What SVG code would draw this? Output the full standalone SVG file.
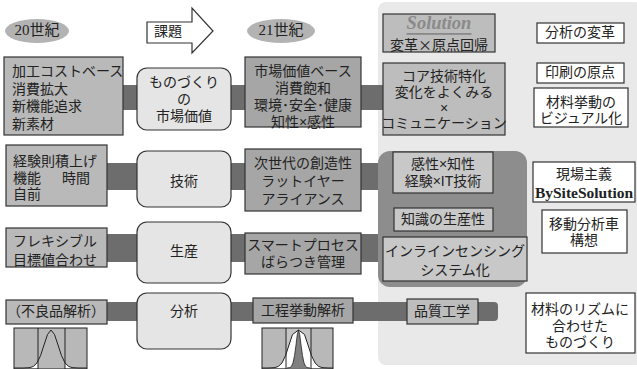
<svg xmlns="http://www.w3.org/2000/svg" width="637" height="369" viewBox="0 0 637 369">
<style>
text{font-family:"Liberation Sans","Noto Sans CJK JP",sans-serif;font-size:14px;fill:#222;dominant-baseline:central}
.c{text-anchor:middle}
.jp{font-family:"Noto Sans CJK JP",sans-serif}
.era{font-family:"Liberation Serif","Noto Sans CJK JP",serif;font-size:15px}
.soltitle{font-family:"Liberation Serif",serif;font-size:18.5px;font-weight:bold;font-style:italic;fill:#8a8a8a;text-decoration:underline}
.bysite{font-family:"Liberation Serif",serif;font-size:15.5px;font-weight:bold}
.old{fill:#b9b9b9;stroke:#333;stroke-width:1.2}
.new{fill:#a6a6a6;stroke:#333;stroke-width:1.2}
.node{fill:#e5e5e5;stroke:#333;stroke-width:1.2}
.sol{fill:#bdbdbd;stroke:#333;stroke-width:1.2}
.inner{fill:#c8c8c8;stroke:#333;stroke-width:1.2}
.wht{fill:#fff;stroke:#333;stroke-width:1.2}
.band{fill:#6d6d6d}
</style>
<rect width="637" height="369" fill="#fff"/>
<rect id="panel" x="378" y="2" width="265" height="363" rx="8" fill="#e9e9e9"/>

<g id="connectors">
<rect class="band" x="120" y="85" width="263" height="25"/>
<rect class="band" x="105" y="163" width="278" height="27"/>
<rect class="band" x="105" y="234" width="278" height="28"/>
<rect class="band" x="105" y="302" width="393" height="19" rx="4"/>
</g>

<g id="era20">
<ellipse cx="37" cy="31" rx="32" ry="12" fill="#b3b3b3"/>
<text class="c era" x="37" y="30">20世紀</text>
</g>
<g id="kadai">
<polygon points="147,22 192,22 192,8 213,31 192,53 192,43 147,43" fill="#fff" stroke="#333" stroke-width="1.2"/>
<text class="c" x="168" y="31">課題</text>
</g>
<g id="era21">
<ellipse cx="281" cy="31" rx="34" ry="12" fill="#b3b3b3"/>
<text class="c era" x="281" y="30">21世紀</text>
</g>

<g id="old1">
<rect class="old" x="4" y="57" width="119" height="78"/>
<text><tspan x="12" y="71">加工コストベース</tspan><tspan x="12" y="88.5">消費拡大</tspan><tspan x="12" y="106">新機能追求</tspan><tspan x="12" y="124">新素材</tspan></text>
</g>
<g id="node1">
<rect class="node" x="137" y="68" width="94" height="62" rx="10"/>
<text class="c"><tspan x="184" y="82">ものづくり</tspan><tspan x="184" y="99">の</tspan><tspan x="184" y="116">市場価値</tspan></text>
</g>
<g id="new1">
<rect class="new" x="245" y="57" width="116" height="70"/>
<text class="c"><tspan x="303" y="71">市場価値ベース</tspan><tspan x="303" y="88">消費飽和</tspan><tspan x="303" y="105">環境･安全･健康</tspan><tspan x="303" y="122">知性×感性</tspan></text>
</g>

<g id="old2">
<rect class="old" x="6" y="145" width="101" height="61"/>
<text><tspan x="13" y="161">経験則積上げ</tspan><tspan x="13" y="177.5">機能</tspan><tspan x="62" y="177.5">時間</tspan><tspan x="13" y="194">自前</tspan></text>
</g>
<g id="node2">
<rect class="node" x="137" y="151" width="94" height="56" rx="10"/>
<text class="c" x="184" y="181">技術</text>
</g>
<g id="new2">
<rect class="new" x="245" y="149" width="116" height="62"/>
<text class="c"><tspan x="303" y="163">次世代の創造性</tspan><tspan x="303" y="181">ラットイヤー</tspan><tspan x="303" y="199">アライアンス</tspan></text>
</g>

<g id="old3">
<rect class="old" x="6" y="228" width="101" height="39"/>
<text><tspan x="13" y="241">フレキシブル</tspan><tspan x="13" y="260">目標値合わせ</tspan></text>
</g>
<g id="node3">
<rect class="node" x="137" y="222" width="94" height="61" rx="10"/>
<text class="c" x="184" y="251">生産</text>
</g>
<g id="new3">
<rect class="new" x="245" y="233" width="116" height="41"/>
<text class="c"><tspan x="303" y="245">スマートプロセス</tspan><tspan x="303" y="262">ばらつき管理</tspan></text>
</g>

<g id="old4">
<rect class="old" x="6" y="300" width="101" height="24"/>
<text class="c" x="56" y="311">（不良品解析）</text>
</g>
<g id="node4">
<rect class="node" x="137" y="293" width="94" height="56" rx="10"/>
<text class="c" x="184" y="311">分析</text>
</g>
<g id="new4">
<rect class="new" x="253" y="298" width="100" height="25"/>
<text class="c" x="303" y="310">工程挙動解析</text>
</g>
<g id="quality">
<rect class="sol" x="407" y="299" width="71" height="25"/>
<text class="c" x="442" y="311">品質工学</text>
</g>

<g id="dist-old">
<rect x="14" y="328" width="73" height="41" fill="#b8b8b8"/>
<polyline points="14,368 23,368 30,367.6 33.5,366.3 37,362.9 40.5,355.7 44,345 47.5,334.5 51,330 54.5,334.5 58,345 61.5,355.7 65,362.9 68.5,366.3 72,367.6 79,368 87,368" fill="#fff"/>
<rect x="38" y="328" width="27" height="41" fill="#b8b8b8"/>
<polyline points="14,368 23,368 30,367.6 33.5,366.3 37,362.9 40.5,355.7 44,345 47.5,334.5 51,330 54.5,334.5 58,345 61.5,355.7 65,362.9 68.5,366.3 72,367.6 79,368 87,368" fill="none" stroke="#222" stroke-width="1"/>
<line x1="38" y1="328" x2="38" y2="369" stroke="#222"/>
<line x1="65" y1="328" x2="65" y2="369" stroke="#222"/>
<rect x="14" y="328" width="73" height="41" fill="none" stroke="#222"/>
</g>
<g id="dist-new">
<rect x="262" y="328" width="71" height="41" fill="#b8b8b8"/>
<rect x="286" y="328" width="25" height="41" fill="#c4c4c4"/>
<polyline points="262,368 268,368 275,367.6 278.5,366.3 282,362.9 285.5,355.7 289,345 292.5,334.5 298.5,330 304.5,334.5 308,345 311.5,355.7 315,362.9 318.5,366.3 322,367.6 329,368 333,368" fill="#fff" stroke="#222" stroke-width="1"/>
<polyline points="287,368 290,367.6 291.5,366.3 293,362.9 294.5,355.7 296,345 297.3,334.5 298.5,330 299.7,334.5 301,345 302.5,355.7 304,362.9 305.5,366.3 307,367.6 310,368" fill="#808080" stroke="#222" stroke-width="0.8"/>
<line x1="286" y1="328" x2="286" y2="369" stroke="#222"/>
<line x1="311" y1="328" x2="311" y2="369" stroke="#222"/>
<rect x="262" y="328" width="71" height="41" fill="none" stroke="#222"/>
</g>

<g id="solution">
<rect class="sol" x="383" y="14" width="112" height="38"/>
<text class="c soltitle" x="439" y="23">Solution</text>
<text class="c jp" x="439" y="43.5">変革×原点回帰</text>
</g>
<g id="core">
<rect class="sol" x="383" y="63" width="122" height="72"/>
<text class="c"><tspan x="444" y="76">コア技術特化</tspan><tspan x="444" y="91.8">変化をよくみる</tspan><tspan x="444" y="107.6">×</tspan><tspan x="444" y="123.4">コミュニケーション</tspan></text>
</g>

<g id="innovation">
<rect x="378" y="151" width="149" height="136" rx="12" fill="#8d8d8d"/>
<g id="kansei">
<rect class="inner" x="393" y="152" width="100" height="41"/>
<text class="c"><tspan x="443" y="164">感性×知性</tspan><tspan x="443" y="181">経験×IT技術</tspan></text>
</g>
<g id="chishiki">
<rect class="inner" x="394" y="208" width="99" height="23"/>
<text class="c" x="443" y="219">知識の生産性</text>
</g>
<g id="inline">
<rect class="inner" x="383" y="237" width="144" height="44"/>
<text class="c"><tspan x="455" y="251">インラインセンシング</tspan><tspan x="455" y="270">システム化</tspan></text>
</g>
</g>

<g id="r1">
<rect class="wht" x="537" y="23" width="87" height="20"/>
<text class="c" x="580" y="32">分析の変革</text>
</g>
<g id="r2">
<rect class="wht" x="537" y="63" width="87" height="20"/>
<text class="c" x="580" y="72">印刷の原点</text>
</g>
<g id="r3">
<rect class="wht" x="534" y="88" width="94" height="39"/>
<text class="c"><tspan x="581" y="101.5">材料挙動の</tspan><tspan x="581" y="117.5">ビジュアル化</tspan></text>
</g>
<g id="r4">
<rect class="wht" x="533" y="162" width="102" height="40"/>
<text class="c"><tspan x="584" y="174">現場主義</tspan><tspan x="584" y="191.5" class="bysite">BySiteSolution</tspan></text>
</g>
<g id="r5">
<rect class="wht" x="542" y="210" width="85" height="43"/>
<text class="c"><tspan x="584" y="223.5">移動分析車</tspan><tspan x="584" y="239.5">構想</tspan></text>
</g>
<g id="r6">
<rect class="wht" x="526" y="293" width="109" height="60"/>
<text class="c"><tspan x="580" y="309">材料のリズムに</tspan><tspan x="580" y="325.5">合わせた</tspan><tspan x="580" y="342">ものづくり</tspan></text>
</g>
</svg>
